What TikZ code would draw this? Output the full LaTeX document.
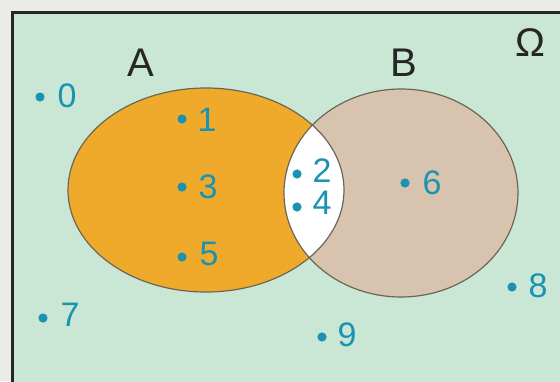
\documentclass[tikz,border=0pt]{standalone}
\usepackage{fontspec}
\setmainfont{Liberation Sans}
\definecolor{paper}{HTML}{EBEBEA}
\definecolor{mint}{HTML}{C9E7D4}
\definecolor{setA}{HTML}{EFAA2B}
\definecolor{setB}{HTML}{D8C4AE}
\definecolor{teal}{HTML}{1A93B3}
\definecolor{rim}{HTML}{6A6656}
\tikzset{
  elem/.style={font=\fontsize{34}{34}\selectfont, text=teal, inner sep=0pt},
  setname/.style={font=\fontsize{40}{40}\selectfont, text=black!85, inner sep=0pt},
  pt/.style={fill=teal, draw=none},
}
\begin{document}
\begin{tikzpicture}[x=1pt,y=-1pt]
  \useasboundingbox (0,0) rectangle (560,381);
  \clip (0,0) rectangle (560,381);
  \fill[paper] (0,0) rectangle (560,381);
  % universal set
  \fill[mint] (12,12.5) rectangle (600,420);
  \draw[line width=3pt, black!85] (12,420) -- (12,12.5) -- (600,12.5);
  % sets A and B
  \fill[setA] (206,190) ellipse [x radius=138, y radius=102];
  \fill[setB] (401,193) ellipse [x radius=117, y radius=104];
  \begin{scope}
    \clip (206,190) ellipse [x radius=138, y radius=102];
    \fill[white] (401,193) ellipse [x radius=117, y radius=104];
  \end{scope}
  \draw[rim, line width=1.2pt] (206,190) ellipse [x radius=138, y radius=102];
  \draw[rim, line width=1.2pt] (401,193) ellipse [x radius=117, y radius=104];
  % set names
  \node[setname] (nA) at (141,63) {A};
  \node[setname] (nB) at (404,63) {B};
  \node[setname] (nO) at (530,43) {Ω};
  % elements
  \foreach \n/\dx/\dy/\lx/\ly in {
      0/40/97/67/96, 1/182/119/207/120, 3/182/187/208/187, 5/182/257/209/254,
      2/297/174/322/171, 4/297/207/322/203, 6/405/183/432/183,
      7/43/318/70/315, 8/512/287/538/286, 9/322/337/347/335} {
    \fill[pt] (\dx,\dy) circle (4.6);
    \node[elem] (e\n) at (\lx,\ly) {\n};
  }
\end{tikzpicture}
\end{document}
